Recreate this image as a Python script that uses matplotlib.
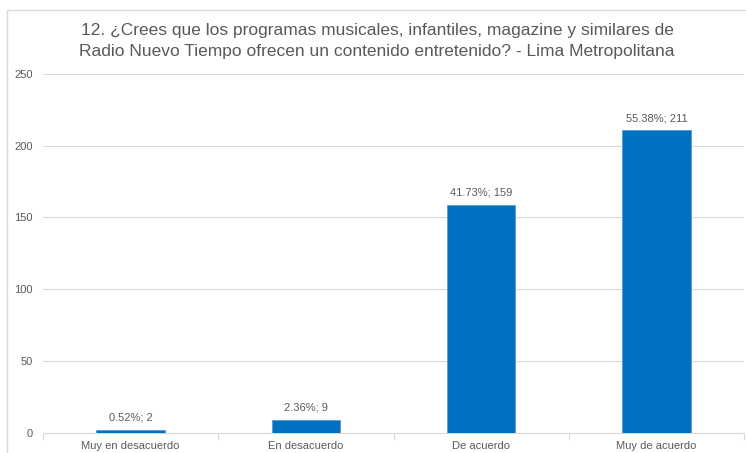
import matplotlib
matplotlib.use("Agg")
import matplotlib.pyplot as plt
from matplotlib.patches import Rectangle

plt.rcParams['font.family'] = ['Liberation Sans', 'DejaVu Sans']

categories = ["Muy en desacuerdo", "En desacuerdo", "De acuerdo", "Muy de acuerdo"]
values = [2, 9, 159, 211]
percents = ["0.52%", "2.36%", "41.73%", "55.38%"]
yticks = [0, 50, 100, 150, 200, 250]
title = ("12. ¿Crees que los programas musicales, infantiles, magazine y similares de\n"
         "Radio Nuevo Tiempo ofrecen un contenido entretenido? - Lima Metropolitana")

W, H = 746, 453
fig = plt.figure(figsize=(W / 100, H / 100), dpi=100)
fig.patch.set_facecolor("white")

# chart frame
fig.patches.append(Rectangle((7 / W, -0.05), 1.2, (H - 10) / H + 0.05,
                             transform=fig.transFigure, fill=False,
                             edgecolor="#D9D9D9", linewidth=1.0))

ax = fig.add_axes([43 / W, (H - 432.7) / H, (744 - 43) / W, (432.7 - 74) / H])
text_color = "#595959"

x = list(range(len(categories)))
bars = ax.bar(x, values, width=0.39, color="#0070C0", edgecolor="#5B9BD5",
              linewidth=0.6, zorder=3)

for xi, v, p in zip(x, values, percents):
    ax.annotate(f"{p}; {v}", (xi, v), xytext=(0, 5), textcoords="offset points",
                ha="center", va="bottom", fontsize=8, color=text_color)

ax.set_xlim(-0.5, len(categories) - 0.5)
ax.set_ylim(0, 250)
ax.set_yticks(yticks)
ax.set_xticks(x)
ax.set_xticklabels(categories)
ax.set_xticks([i - 0.5 for i in range(len(categories) + 1)], minor=True)
ax.tick_params(axis="x", which="major", length=0, pad=6, labelsize=8, labelcolor=text_color)
ax.tick_params(axis="x", which="minor", length=5, color="#D9D9D9", width=0.8)
ax.tick_params(axis="y", length=0, pad=7.5, labelsize=8, labelcolor=text_color)

ax.grid(axis="y", color="#D9D9D9", linewidth=0.8, zorder=0)
ax.set_axisbelow(True)
for s in ["top", "right", "left"]:
    ax.spines[s].set_visible(False)
ax.spines["bottom"].set_color("#D9D9D9")
ax.spines["bottom"].set_linewidth(0.8)

fig.text(0.5 + 4 / W, (H - 41) / H, title, ha="center", va="center",
         fontsize=12.5, color=text_color, linespacing=1.45)

fig.savefig("out.png", dpi=100, facecolor="white")
